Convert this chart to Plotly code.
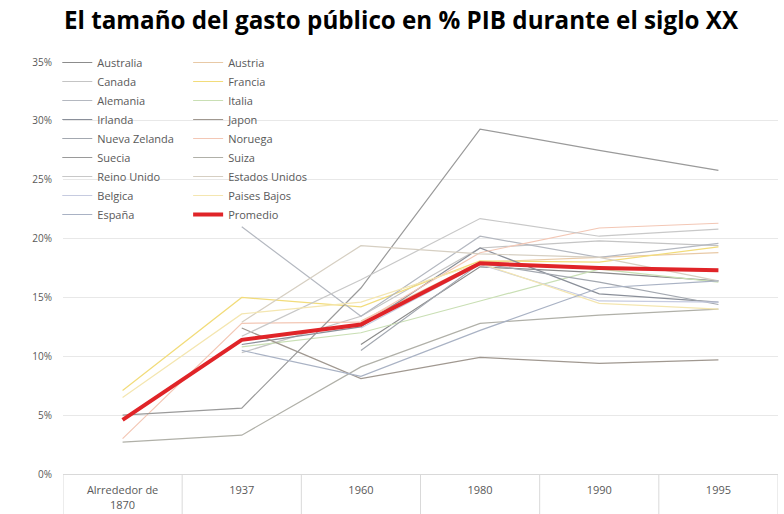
import plotly.graph_objects as go

# Periods on the x axis
periods = ["Alrrededor de<br>1870", "1937", "1960", "1980", "1990", "1995"]

# Public spending as % of GDP (None = no data for that period)
australia = [None, None, 11.0, 17.6, 17.1, 16.4]
austria = [None, None, 13.0, 18.0, 18.4, 18.8]
canada = [None, 10.3, 13.4, 19.2, 19.8, 19.4]
francia = [7.1, 15.0, 14.2, 18.1, 18.0, 19.3]
alemania = [None, 21.0, 13.4, 20.2, 18.4, 19.6]
italia = [None, 10.8, 12.0, 14.7, 17.4, 16.3]
irlanda = [None, 11.0, 12.5, 19.2, 15.3, 14.6]
japon = [None, 12.4, 8.1, 9.9, 9.4, 9.7]
nueva_zelanda = [None, None, 10.5, 17.9, 16.3, 14.4]
noruega = [3.0, 12.8, 12.9, 18.8, 20.9, 21.3]
suecia = [5.0, 5.6, 15.8, 29.3, 27.5, 25.8]
suiza = [2.7, 3.3, 9.1, 12.8, 13.5, 14.0]
reino_unido = [None, 11.7, 16.5, 21.7, 20.2, 20.8]
estados_unidos = [None, 12.9, 19.4, 18.7, 18.4, 16.4]
belgica = [None, None, 12.4, 17.8, 14.7, 14.6]
paises_bajos = [6.5, 13.6, 14.6, 17.9, 14.5, 14.0]
espana = [None, 10.5, 8.3, 12.2, 15.8, 16.4]
promedio = [4.6, 11.4, 12.7, 17.9, 17.5, 17.3]

# (name, values, colour, legend column)
countries = [
    ("Australia", australia, "#8c8c8c", "legend"),
    ("Austria", austria, "#e8c9a6", "legend2"),
    ("Canada", canada, "#c4c4c4", "legend"),
    ("Francia", francia, "#f2dc7a", "legend2"),
    ("Alemania", alemania, "#b4b8c0", "legend"),
    ("Italia", italia, "#c9dfb4", "legend2"),
    ("Irlanda", irlanda, "#8a8f99", "legend"),
    ("Japon", japon, "#a09890", "legend2"),
    ("Nueva Zelanda", nueva_zelanda, "#a3a8b0", "legend"),
    ("Noruega", noruega, "#f3c7b5", "legend2"),
    ("Suecia", suecia, "#9a9a9a", "legend"),
    ("Suiza", suiza, "#b0b0a8", "legend2"),
    ("Reino Unido", reino_unido, "#c8c8c8", "legend"),
    ("Estados Unidos", estados_unidos, "#d6cfc2", "legend2"),
    ("Belgica", belgica, "#c6cbe0", "legend"),
    ("Paises Bajos", paises_bajos, "#f4e6b0", "legend2"),
    ("España", espana, "#a9b2c4", "legend"),
]

fig = go.Figure()
for name, vals, color, leg in countries:
    fig.add_trace(go.Scatter(
        x=periods, y=vals, name=name, mode="lines",
        line=dict(color=color, width=1.2), legend=leg,
        connectgaps=False,
    ))

fig.add_trace(go.Scatter(
    x=periods, y=promedio, name="Promedio", mode="lines",
    line=dict(color="#e02428", width=4), legend="legend2",
))

# Cell borders under the category axis
shapes = []
for i in range(len(periods) + 1):
    shapes.append(dict(type="line", xref="x", yref="paper",
                       x0=i - 0.5, x1=i - 0.5, y0=0, y1=-0.12,
                       line=dict(color="#d9d9d9", width=1)))

legend_font = dict(family="Open Sans, sans-serif", size=11, color="#595959")
legend_top = 1 - 48 / 514

fig.update_layout(
    width=784, height=514,
    margin=dict(l=63, r=6, t=62, b=40, autoexpand=False),
    paper_bgcolor="white", plot_bgcolor="white",
    title=dict(
        text="<b>El tamaño del gasto público en % PIB durante el siglo XX</b>",
        x=401 / 784, xanchor="center", xref="container",
        y=1 - 21 / 514, yanchor="middle", yref="container",
        font=dict(family="Open Sans, sans-serif", size=24.2, color="#000000"),
    ),
    showlegend=True,
    legend=dict(x=-0.008, y=legend_top, xanchor="left", yanchor="top",
                yref="container",
                bgcolor="rgba(0,0,0,0)", font=legend_font, itemwidth=30,
                orientation="v"),
    legend2=dict(x=0.175, y=legend_top, xanchor="left", yanchor="top",
                 yref="container",
                 bgcolor="rgba(0,0,0,0)", font=legend_font, itemwidth=30,
                 orientation="v"),
    shapes=shapes,
)

fig.update_xaxes(
    type="category", range=[-0.5, len(periods) - 0.5],
    showgrid=False, showline=True, linecolor="#d9d9d9", linewidth=1,
    ticks="", ticklabelstandoff=6,
    tickfont=dict(family="Open Sans, sans-serif", size=11, color="#595959"),
)
fig.update_yaxes(
    range=[0, 35], dtick=5, ticksuffix="%",
    showgrid=True, gridcolor="#e8e8e8", gridwidth=1,
    zeroline=False, showline=False, ticks="", ticklabelstandoff=10,
    tickfont=dict(family="Open Sans, sans-serif", size=10, color="#595959"),
)

fig.write_html("out.html")
